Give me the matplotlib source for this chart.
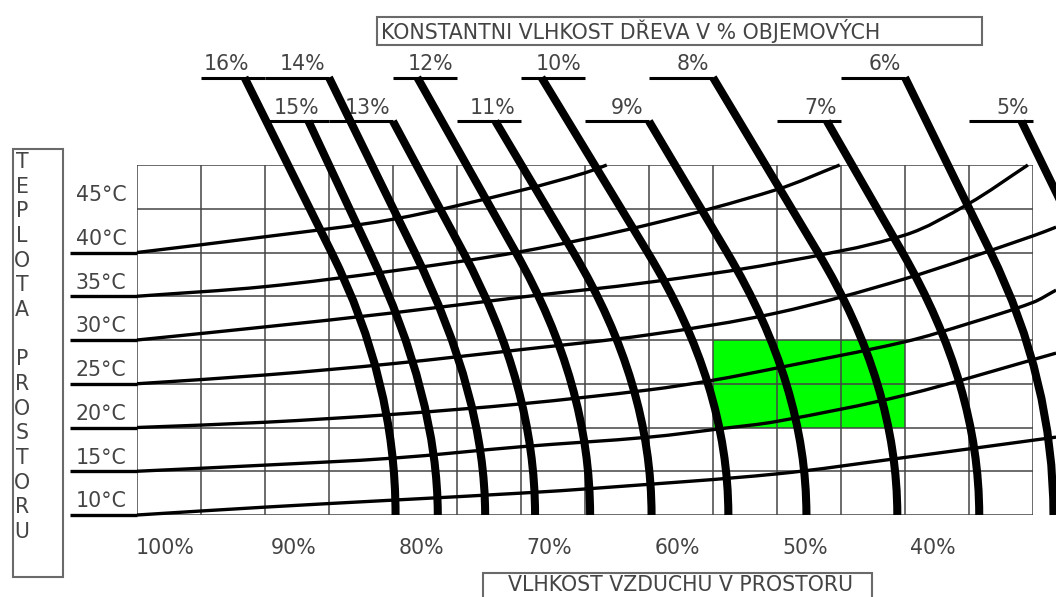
import numpy as np
import matplotlib
matplotlib.use("Agg")
import matplotlib.pyplot as plt
from matplotlib.path import Path
from matplotlib.patches import PathPatch, Rectangle

# ── grid: relative humidity (%) across, room temperature (°C) up ──
grid_rh = [102.5, 97.5, 92.5, 87.5, 82.5, 77.5, 72.5, 67.5, 62.5, 57.5,
           52.5, 47.5, 42.5, 37.5, 32.5]
grid_temp = [10, 15, 20, 25, 30, 35, 40, 45, 50]
rh_ticks = [100, 90, 80, 70, 60, 50, 40]
temp_ticks = [45, 40, 35, 30, 25, 20, 15, 10]

# recommended zone (green)
zone_rh = [57.5, 42.5]
zone_temp = [20, 30]

# ── constant-temperature curves ──
t40_rh = [102.5, 92.5, 82.5, 72.5, 67.5, 65.8]
t40_t = [40.0, 41.8, 43.8, 47.1, 49.1, 50.0]
t35_rh = [102.5, 92.5, 82.5, 72.5, 62.5, 52.5, 47.6]
t35_t = [35.0, 36.1, 37.9, 40.1, 43.2, 47.2, 50.0]
t30_rh = [102.5, 92.5, 82.5, 72.5, 62.5, 52.5, 42.5, 37.5, 32.9]
t30_t = [30.0, 31.5, 33.1, 34.9, 36.6, 38.8, 42.0, 45.6, 50.0]
t25_rh = [102.5, 92.5, 82.5, 72.5, 62.5, 52.5, 42.5, 32.5, 30.7]
t25_t = [25.0, 26.0, 27.3, 28.9, 30.6, 33.1, 37.0, 41.9, 42.9]
t20_rh = [102.5, 92.5, 82.5, 72.5, 62.5, 57.5, 52.5, 42.5, 37.5, 32.5, 30.7]
t20_t = [20.0, 20.6, 21.5, 22.7, 24.3, 25.4, 26.8, 29.8, 31.9, 34.3, 35.7]
t15_rh = [102.5, 92.5, 82.5, 72.5, 62.5, 56.7, 52.5, 42.5, 30.7]
t15_t = [15.0, 15.7, 16.5, 17.8, 18.9, 19.9, 20.7, 23.7, 28.5]
t10_rh = [102.5, 92.5, 82.5, 72.5, 66.3, 52.5, 42.9, 30.7]
t10_t = [10.0, 10.9, 11.7, 12.5, 13.1, 14.7, 16.5, 18.9]

temp_curves = [(40, t40_rh, t40_t), (35, t35_rh, t35_t), (30, t30_rh, t30_t),
               (25, t25_rh, t25_t), (20, t20_rh, t20_t), (15, t15_rh, t15_t),
               (10, t10_rh, t10_t)]

# ── constant wood-moisture curves ──
wood_labels = ["16%", "15%", "14%", "13%", "12%", "11%",
               "10%", "9%", "8%", "7%", "6%", "5%"]
wood_top_t = [60, 55, 60, 55, 60, 55, 60, 55, 60, 55, 60, 55]
wood_tick_left = [97.5, 92.5, 92.5, 87.5, 82.5, 77.5,
                  72.5, 67.5, 62.5, 52.5, 47.5, 37.5]
wood_label_rh = [95.5, 90.0, 89.6, 84.5, 79.6, 74.7, 69.6, 64.2, 59.1, 49.1, 44.1, 34.1]
wood_top_rh = [94.1, 89.1, 87.5, 82.5, 80.6, 74.5, 70.9, 62.5, 57.5, 48.6, 42.5, 33.4]
wood_knee_rh = [87.3, 84.3, 80.8, 77.0, 72.9, 68.4, 62.6, 56.4, 49.3, 42.7, 35.8, 28.4]
wood_base_rh = [82.3, 79.0, 75.3, 71.4, 67.1, 62.3, 56.3, 50.2, 43.1, 36.7, 30.9, 23.3]

W, H = 1056, 597
TXT = "#444444"
FS = 14.8


def fx(px):
    return px / W


def fy(py):
    return 1 - py / H


def smooth_path(xs, ys):
    # cubic hermite in x through the read points, drawn as bezier segments
    x = np.asarray(xs, float)
    y = np.asarray(ys, float)
    m = np.empty_like(y)
    m[1:-1] = (y[2:] - y[:-2]) / (x[2:] - x[:-2])
    m[0] = (y[1] - y[0]) / (x[1] - x[0])
    m[-1] = (y[-1] - y[-2]) / (x[-1] - x[-2])
    verts = [(x[0], y[0])]
    codes = [Path.MOVETO]
    for i in range(len(x) - 1):
        d = (x[i + 1] - x[i]) / 3
        verts += [(x[i] + d, y[i] + m[i] * d),
                  (x[i + 1] - d, y[i + 1] - m[i + 1] * d),
                  (x[i + 1], y[i + 1])]
        codes += [Path.CURVE4] * 3
    return Path(verts, codes)


fig = plt.figure(figsize=(W / 100, H / 100), dpi=100)
ax = fig.add_axes([fx(137), fy(515), fx(1033) - fx(137), fy(165) - fy(515)])
ax.set_xlim(grid_rh[0], grid_rh[-1])
ax.set_ylim(grid_temp[0], grid_temp[-1])
ax.axis("off")

# green zone
ax.add_patch(Rectangle((zone_rh[1], zone_temp[0]), zone_rh[0] - zone_rh[1],
                       zone_temp[1] - zone_temp[0], facecolor="#00ff00",
                       edgecolor="none", zorder=1))

# grid
ax.vlines(grid_rh, grid_temp[0], grid_temp[-1], color="#444444", lw=1.1, zorder=2)
ax.hlines(grid_temp, grid_rh[0], grid_rh[-1], color="#444444", lw=1.1, zorder=2)

# temperature curves + their underlines on the left
for t, rh, tt in temp_curves:
    ax.add_patch(PathPatch(smooth_path(rh, tt), fill=False, color="black",
                           lw=2.4, zorder=3, clip_on=False, capstyle="butt"))
    ax.plot([107.7, 102.5], [t, t], color="black", lw=2.4, zorder=3,
            clip_on=False, solid_capstyle="butt")

for t in temp_ticks:
    ax.text(107.3, t + 1.55, f"{t}°C", ha="left", va="center", fontsize=FS,
            color=TXT)

for v in rh_ticks:
    ax.text(v + 0.3, 6.2, f"{v}%", ha="center", va="center", fontsize=FS,
            color=TXT)

# wood moisture curves
for lab, t0, tl, lx, h0, hk, hb in zip(wood_labels, wood_top_t, wood_tick_left,
                                       wood_label_rh, wood_top_rh, wood_knee_rh,
                                       wood_base_rh):
    m = (hk - h0) / (40 - t0)
    tc = min(max(40 + (hb - hk) / m, 10), 40)
    path = Path([(h0, t0), (hk, 40), (hb, tc), (hb, 10)],
                [Path.MOVETO, Path.LINETO, Path.CURVE3, Path.CURVE3])
    ax.add_patch(PathPatch(path, fill=False, color="black", lw=5.8, zorder=4,
                           clip_on=False, capstyle="butt", joinstyle="round"))
    ax.plot([tl, tl - 5], [t0, t0], color="black", lw=2.2, zorder=4,
            clip_on=False, solid_capstyle="butt")
    ax.text(lx, t0 + 1.5, lab, ha="center", va="center", fontsize=FS, color=TXT)

# boxed captions
box_kw = dict(fill=False, edgecolor="#6a6a6a", lw=1.5, transform=fig.transFigure)
fig.add_artist(Rectangle((fx(377), fy(45)), fx(982) - fx(377), fy(17) - fy(45), **box_kw))
fig.text(fx(381), fy(31), "KONSTANTNI VLHKOST DŘEVA V % OBJEMOVÝCH",
         ha="left", va="center", fontsize=FS, color=TXT)

fig.add_artist(Rectangle((fx(483), fy(600)), fx(872) - fx(483), fy(573) - fy(600), **box_kw))
fig.text(fx(680), fy(585), "VLHKOST VZDUCHU V PROSTORU",
         ha="center", va="center", fontsize=FS, color=TXT)

fig.add_artist(Rectangle((fx(13), fy(577)), fx(63) - fx(13), fy(149) - fy(577), **box_kw))
for i, ch in enumerate("TEPLOTA PROSTORU"):
    fig.text(fx(22), fy(162 + 24.67 * i), ch, ha="center", va="center",
             fontsize=FS, color=TXT)

fig.savefig("out.png", dpi=100)
